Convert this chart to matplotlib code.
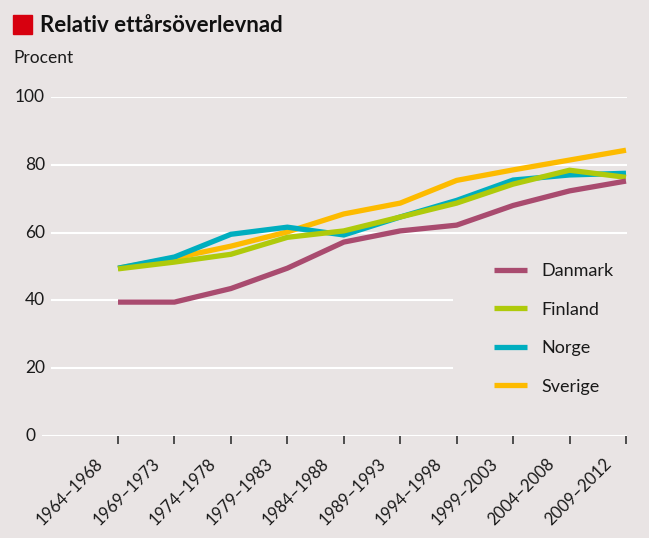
import matplotlib.pyplot as plt
import matplotlib.transforms as mtrans
from matplotlib.patches import Rectangle

# periods on the x axis
periods = ['1964–1968', '1969–1973', '1974–1978', '1979–1983', '1984–1988',
           '1989–1993', '1994–1998', '1999–2003', '2004–2008', '2009–2012']

# relative one-year survival, percent
danmark = [39.5, 39.5, 43.5, 49.5, 57.2, 60.5, 62.2, 68.0, 72.3, 75.2]
finland = [49.3, 51.3, 53.6, 58.6, 60.5, 64.6, 68.7, 74.3, 78.4, 76.3]
norge = [49.5, 52.8, 59.5, 61.6, 59.3, 64.6, 69.5, 75.5, 77.0, 77.5]
sverige = [49.5, 52.5, 56.0, 60.2, 65.5, 68.7, 75.4, 78.5, 81.4, 84.3]

yticks = [0, 20, 40, 60, 80, 100]

bg = '#e9e4e4'
col = {'Danmark': '#a94b6f', 'Finland': '#afca0b', 'Norge': '#00aebf', 'Sverige': '#fdbb00'}

plt.rcParams['font.family'] = ['Lato', 'DejaVu Sans']

W, H = 649, 538
fig = plt.figure(figsize=(W / 100, H / 100), dpi=100, facecolor=bg)
# axes placed in pixel terms: x from 42 to 627, y from 436 (0) to 97 (100)
ax = fig.add_axes([42 / W, (H - 436) / H, 585 / W, 339 / H])
ax.set_facecolor(bg)
for s in ax.spines.values():
    s.set_visible(False)

x = list(range(len(periods)))
ax.set_xlim(-1.347, 9.018)
ax.set_ylim(0, 100)

# gridlines (20 and 40 stop short where the legend sits)
for v in yticks:
    if v == 0:
        ax.axhline(v, xmin=0, xmax=1, color='white', lw=1.5, zorder=1)
    elif v in (20, 40):
        ax.axhline(v, xmin=10 / 585, xmax=410 / 585, color='white', lw=1.5, zorder=1)
    else:
        ax.axhline(v, xmin=10 / 585, xmax=1, color='white', lw=1.5, zorder=1)
    xpos = -7 / 585 if v == 0 else 3 / 585
    ax.text(xpos, v, str(v), transform=ax.get_yaxis_transform(), ha='right',
            va='center', fontsize=12.5, color='#1a1a1a')
ax.set_yticks([])

lw = 3.8
series = [('Sverige', sverige), ('Norge', norge), ('Finland', finland), ('Danmark', danmark)]
handles = {}
for name, vals in series:
    ln, = ax.plot(x, vals, color=col[name], lw=lw, solid_joinstyle='miter',
                  solid_capstyle='butt', zorder=3, clip_on=False, label=name)
    handles[name] = ln

ax.set_xticks(x)
ax.set_xticklabels(periods, rotation=45, ha='right', va='top',
                   rotation_mode='anchor', fontsize=12, color='#1a1a1a')
ax.tick_params(axis='x', length=6, width=1.2, color='#333333', pad=8)
for lab in ax.get_xticklabels():
    lab.set_transform(lab.get_transform() + mtrans.ScaledTranslation(-0.23, 0, fig.dpi_scale_trans))

order = ['Danmark', 'Finland', 'Norge', 'Sverige']
leg = ax.legend([handles[n] for n in order], order, loc='upper left',
                bbox_to_anchor=(494 / W, (H - 263) / H), bbox_transform=fig.transFigure,
                frameon=False, fontsize=13, borderpad=0, borderaxespad=0,
                handlelength=1.85, handletextpad=0.8, labelspacing=1.25)
for t in leg.get_texts():
    t.set_color('#1a1a1a')

# title block
fig.patches.append(Rectangle((13 / W, (H - 34) / H), 19 / W, 19 / H,
                             transform=fig.transFigure, color='#d7000f'))
fig.text(40 / W, (H - 25) / H, 'Relativ ettårsöverlevnad', fontsize=16,
         fontweight='bold', va='center', ha='left', color='#111111')
fig.text(13 / W, (H - 58) / H, 'Procent', fontsize=12.5, va='center', ha='left',
         color='#1a1a1a')

fig.savefig('out.png', dpi=100, facecolor=bg)
